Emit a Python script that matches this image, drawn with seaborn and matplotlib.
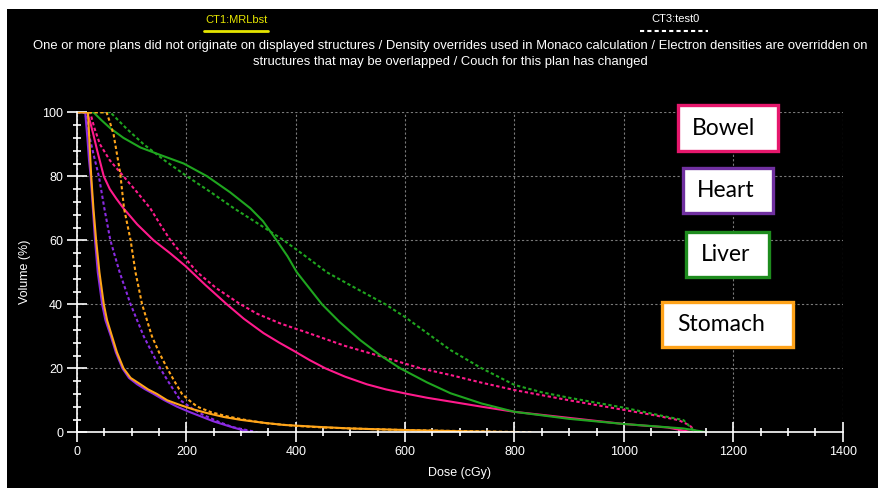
import numpy as np
import pandas as pd
import seaborn as sns
import matplotlib
import matplotlib.pyplot as plt
from matplotlib.patches import Rectangle
from matplotlib.lines import Line2D
from matplotlib.ticker import MultipleLocator

sns.set_style('dark')
matplotlib.rcParams['font.family'] = ['Liberation Sans', 'DejaVu Sans']

# DVH curves, CT1 = solid plan, CT3 = dashed plan
bowel_ct1_dose = [0, 18, 24, 30, 37, 43, 49, 60, 72, 85, 110, 140, 170, 198, 235, 274, 305, 341, 370, 396,
                  425, 454, 490, 530, 565, 604, 640, 683, 740, 800, 900, 1000, 1080, 1125]
bowel_ct1_vol = [100, 100, 97, 93, 88, 84, 80, 76, 73, 70, 65, 60, 56, 52, 46, 40, 35.5, 31, 28, 25.5,
                 22.6, 20, 17.4, 15, 13.4, 12, 10.8, 9.6, 8, 6.4, 4.5, 2.6, 1.5, 0]
bowel_ct3_dose = [0, 24, 32, 42, 60, 85, 110, 134, 152, 171, 195, 220, 255, 299, 330, 372, 415, 457, 490,
                  530, 580, 628, 683, 740, 800, 900, 1000, 1060, 1100, 1120, 1133]
bowel_ct3_vol = [100, 100, 95, 90, 85, 80, 75, 70, 65, 60, 55, 50, 45, 40, 37, 34, 31.5, 29, 27,
                 25, 22.5, 20, 17.9, 15.5, 13.2, 10, 7, 5.2, 3.8, 2.2, 0]

heart_ct1_dose = [0, 15, 19, 22, 25, 29, 33, 38, 46, 52, 62, 71, 83, 95, 110, 125, 140, 160, 183, 205,
                  226, 250, 280, 300, 317]
heart_ct1_vol = [100, 100, 92, 85, 80, 70, 60, 50, 40, 35, 30, 25, 20, 17, 15, 13.4, 12, 10, 8, 6.4,
                 5, 3.4, 1.8, 0.8, 0]
heart_ct3_dose = [0, 15, 22, 30, 40, 50, 61, 78, 98, 110, 122, 137, 152, 170, 189, 210, 230, 260, 285, 330]
heart_ct3_vol = [100, 100, 93, 87, 80, 70, 60, 50, 40, 35, 30, 25, 20, 15, 10, 7.5, 5.5, 3.2, 1.6, 0]

liver_ct1_dose = [0, 30, 45, 61, 85, 116, 155, 195, 238, 280, 317, 340, 365, 385, 402, 425, 448, 480, 518,
                  555, 591, 640, 683, 740, 800, 900, 1000, 1109, 1152]
liver_ct1_vol = [100, 100, 97.5, 95, 92, 89, 86.5, 84, 80, 75, 70, 66, 60, 55, 50, 45, 40, 34.5, 28.8,
                 24, 20, 15.6, 12.2, 9, 6.4, 4.2, 2.6, 1.2, 0]
liver_ct3_dose = [0, 61, 90, 122, 160, 201, 245, 287, 333, 378, 418, 457, 510, 564, 600, 683, 740,
                  800, 850, 900, 1000, 1060, 1109, 1131]
liver_ct3_vol = [100, 100, 95, 90, 85, 80, 75, 70, 65, 60, 55, 50, 45, 40, 36, 25.7, 20,
                 14.8, 12.5, 10.8, 7.7, 5.5, 3.8, 0]

stomach_ct1_dose = [0, 20, 23, 26, 30, 35, 41, 49, 55, 64, 73, 85, 98, 116, 130, 146, 165, 189, 212, 238,
                    268, 299, 340, 378, 440, 500, 580, 652, 800]
stomach_ct1_vol = [100, 100, 90, 80, 70, 60, 50, 40, 35, 30, 25, 20, 17, 15, 13.4, 12, 10, 8.5, 7.2, 6,
                   4.8, 3.9, 3, 2.3, 1.7, 1.2, 0.8, 0.5, 0]
stomach_ct3_dose = [0, 54, 60, 67, 73, 79, 86, 92, 98, 107, 119, 128, 137, 150, 165, 178, 192, 205, 220,
                    245, 274, 310, 348, 400, 450, 520, 600, 700, 835]
stomach_ct3_vol = [100, 100, 97, 93, 87, 81, 70, 65, 60, 50, 40, 35, 30, 25, 20, 16, 12, 10, 8,
                   6.3, 5, 3.8, 2.8, 2, 1.5, 1.1, 0.7, 0.4, 0]

organs = ['Bowel', 'Heart', 'Liver', 'Stomach']
line_colors = {'Bowel': '#ff1a8c', 'Heart': '#8a2be2', 'Liver': '#1fa51f', 'Stomach': '#ffa51a'}
box_colors = {'Bowel': '#e6176c', 'Heart': '#7030a0', 'Liver': '#1e8c1e', 'Stomach': '#ffa31a'}

curves = [
    ('Bowel', 'CT1', bowel_ct1_dose, bowel_ct1_vol),
    ('Bowel', 'CT3', bowel_ct3_dose, bowel_ct3_vol),
    ('Liver', 'CT1', liver_ct1_dose, liver_ct1_vol),
    ('Liver', 'CT3', liver_ct3_dose, liver_ct3_vol),
    ('Heart', 'CT1', heart_ct1_dose, heart_ct1_vol),
    ('Heart', 'CT3', heart_ct3_dose, heart_ct3_vol),
    ('Stomach', 'CT1', stomach_ct1_dose, stomach_ct1_vol),
    ('Stomach', 'CT3', stomach_ct3_dose, stomach_ct3_vol),
]

W, H = 883, 488


def fx(px):
    return px / W


def fy(py):
    return 1 - py / H


fig = plt.figure(figsize=(W / 100, H / 100), dpi=100, facecolor='white')
fig.add_artist(Rectangle((fx(7), 0), fx(878) - fx(7), fy(9), transform=fig.transFigure,
                         facecolor='black', edgecolor='none', zorder=0))

ax = fig.add_axes([fx(77), fy(432.3), fx(842.6) - fx(77), (432.3 - 112.3) / H])
ax.set_facecolor('none')

for organ, plan, dose, vol in curves:
    ls = '-' if plan == 'CT1' else (0, (1.6, 1.2))
    sns.lineplot(x=dose, y=vol, ax=ax, color=line_colors[organ], linestyle=ls,
                 linewidth=1.5, sort=False, estimator=None, zorder=3)

ax.set_xlim(0, 1400)
ax.set_ylim(0, 100)
ax.xaxis.set_major_locator(MultipleLocator(200))
ax.xaxis.set_minor_locator(MultipleLocator(50))
ax.yaxis.set_major_locator(MultipleLocator(20))
ax.yaxis.set_minor_locator(MultipleLocator(4))
ax.grid(True, which='major', color='#7a7a7a', linestyle=(0, (2, 2)), linewidth=0.8, zorder=1)
for s in ['top', 'right']:
    ax.spines[s].set_visible(False)
for s in ['left', 'bottom']:
    ax.spines[s].set_color('white')
    ax.spines[s].set_linewidth(1.2)
    ax.spines[s].set_zorder(4)
ax.tick_params(which='both', bottom=True, left=True)
ax.tick_params(which='major', direction='inout', length=14, width=1.2, color='white',
               labelcolor='white', labelsize=9, pad=3)
ax.tick_params(which='minor', direction='inout', length=5.5, width=1.2, color='white')
ax.set_xlabel('Dose (cGy)', color='white', fontsize=9, labelpad=6)
ax.set_ylabel('Volume (%)', color='white', fontsize=9, labelpad=8)

# header
fig.text(fx(236), fy(20), 'CT1:MRLbst', color='#e6e600', fontsize=8, ha='center', va='center')
fig.add_artist(Line2D([fx(204), fx(268)], [fy(31), fy(31)], color='#e6e600', linewidth=2))
fig.text(fx(675), fy(19), 'CT3:test0', color='white', fontsize=8, ha='center', va='center')
fig.add_artist(Line2D([fx(640), fx(708)], [fy(31), fy(31)], color='white', linewidth=1.5,
                      linestyle=(0, (2, 1.5))))
fig.text(fx(450), fy(46),
         'One or more plans did not originate on displayed structures / Density overrides used in '
         'Monaco calculation / Electron densities are overridden on',
         color='white', fontsize=9.4, ha='center', va='center')
fig.text(fx(450), fy(62), 'structures that may be overlapped / Couch for this plan has changed',
         color='white', fontsize=9.4, ha='center', va='center')

# organ label boxes
boxes = {'Bowel': (678, 105, 778, 151, 692), 'Heart': (683, 168, 773, 213, 697),
         'Liver': (686, 232, 769, 277, 701), 'Stomach': (662, 302, 793, 347, 677)}
for organ in organs:
    x0, y0, x1, y1, tx = boxes[organ]
    fig.add_artist(Rectangle((fx(x0), fy(y1)), fx(x1) - fx(x0), fy(y0) - fy(y1),
                             transform=fig.transFigure, facecolor='white',
                             edgecolor=box_colors[organ], linewidth=2.4, zorder=5))
    fig.text(fx(tx), fy((y0 + y1) / 2), organ, color='black', fontsize=16.5, ha='left',
             va='center', family=['Lato', 'DejaVu Sans'], zorder=6)

fig.savefig('out.png', dpi=100, facecolor='white')
